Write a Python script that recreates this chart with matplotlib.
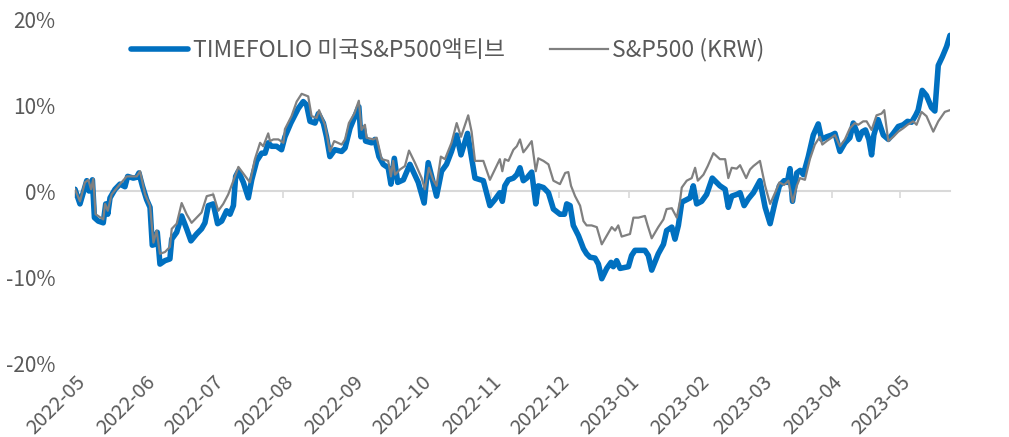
import matplotlib
matplotlib.use("Agg")
import matplotlib.pyplot as plt
import matplotlib.dates as mdates
import pandas as pd

plt.rcParams['font.family'] = ['Noto Sans CJK KR', 'DejaVu Sans']
plt.rcParams['font.weight'] = 'light'

start_date = "2022-05-01"
series_names = ["TIMEFOLIO 미국S&P500액티브", "S&P500 (KRW)"]

# TIMEFOLIO: (days since start, cumulative return %)
tf_days = [0, 2.2, 5.2, 6.2, 7.7, 8.6, 10.3, 12.5, 13.6, 14.5, 15.5, 17.7, 19.9, 22.1, 23.3, 25.8,
           27.3, 28.3, 29.8, 31.7, 33.2, 34.2, 35.4, 36.4, 37.6, 39.8, 42.0, 42.8, 45.0, 47.2, 49.4,
           51.3, 53.8, 56.0, 57.5, 59.0, 61.2, 63.1, 64.9, 67.1, 68.6, 70.1, 71.1, 72.3, 74.5, 76.7,
           78.2, 80.4, 82.6, 84.1, 85.5, 87.0, 89.2, 91.4, 92.9, 95.5, 98.8, 101.0, 102.5, 104.0,
           106.2, 107.7, 109.9, 111.3, 112.8, 115.0, 118.0, 119.5, 121.7, 123.9, 125.6, 126.5, 127.6,
           128.6, 131.3, 132.7, 134.5, 136.4, 138.6, 139.8, 141.3, 142.8, 145.3, 148.2, 151.9, 154.5,
           156.3, 160.0, 162.2, 164.4, 166.6, 168.9, 170.8, 173.7, 177.0, 180.7, 183.6, 185.8, 188.0,
           189.1, 190.2, 191.8, 194.0, 195.5, 196.9, 198.4, 199.9, 202.1, 203.9, 205.0, 207.3, 209.5,
           211.7, 214.6, 216.6, 217.6, 219.1, 220.5, 222.8, 225.0, 226.4, 227.9, 230.1, 231.6, 233.1,
           235.3, 237.2, 238.2, 239.7, 241.2, 244.9, 246.3, 247.8, 252.2, 253.7, 255.2, 258.1, 260.4,
           261.8, 264.1, 265.5, 267.0, 268.5, 270.7, 272.2, 273.6, 275.1, 277.3, 279.5, 282.0, 285.4,
           287.7, 289.1, 290.6, 292.8, 294.3, 296.1, 298.0, 300.2, 303.1, 305.4, 307.6, 309.8, 311.7,
           313.8, 315.2, 316.4, 317.5, 319.4, 320.9, 322.3, 324.5, 326.7, 328.9, 330.4, 332.6, 334.8,
           336.3, 338.5, 340.7, 342.9, 344.4, 345.9, 346.9, 348.4, 349.8, 351.3, 352.5, 353.5, 355.4,
           357.7, 359.9, 362.1, 364.3, 366.5, 368.4, 370.2, 372.0, 373.1, 374.9, 376.8, 379.0, 380.5,
           382.0, 383.8, 385.7, 387.2]
tf_vals = [0.2, -1.5, 1.2, 0.0, 1.3, -3.1, -3.5, -3.7, -1.5, -2.7, -0.8, 0.2, 0.8, 0.5, 1.7, 1.5,
           1.6, 2.1, 0.6, -1.0, -1.9, -6.3, -6.2, -4.8, -8.5, -8.1, -7.9, -5.6, -4.8, -2.9, -4.4,
           -5.8, -5.0, -4.4, -3.7, -1.7, -1.5, -3.8, -3.5, -2.3, -2.7, -1.7, 1.7, 2.3, 1.0, -0.8,
           1.3, 3.5, 4.4, 4.4, 5.6, 5.2, 5.2, 4.8, 6.3, 7.9, 9.6, 10.4, 10.0, 8.1,
           7.9, 9.0, 7.9, 6.3, 4.0, 4.8, 4.6, 5.0, 7.3, 8.7, 9.8, 6.3, 7.3,
           5.8, 5.6, 6.0, 4.0, 3.1, 2.7, 0.8, 3.8, 1.0, 1.3, 3.1, 1.0, -1.4,
           3.3, -0.6, 2.3, 3.1, 4.6, 6.5, 4.2, 6.7, 1.5, 1.2, -1.7, -1.0, -0.2,
           -1.2, 0.6, 1.3, 1.5, 1.9, 2.7, 1.2, 1.5, 2.2, -1.5, 0.6, 0.4, -0.2,
           -2.1, -2.7, -2.7, -1.5, -1.7, -4.0, -5.2, -6.7, -7.3, -7.7, -7.8, -8.5, -10.2,
           -9.0, -8.3, -8.8, -8.1, -9.0, -8.8, -7.5, -6.9, -6.9, -7.5, -9.2, -7.3, -6.2,
           -4.6, -4.2, -5.6, -4.0, -1.3, -1.0, -0.8, 0.6, -1.5, -1.2, -0.4, 1.5, 0.6,
           0.2, -1.9, -0.6, -0.4, -0.2, -1.7, -0.9, -0.2, 1.2, -1.9, -3.8, -1.3, 0.6,
           1.2, 1.0, 2.6, -1.2, 2.1, 2.4, 1.9, 4.0, 6.5, 7.8, 6.0, 6.3, 6.5,
           6.7, 4.6, 5.6, 6.2, 7.9, 6.9, 6.0, 6.9, 7.1, 6.0, 4.2, 6.5, 8.3,
           6.5, 6.0, 6.7, 7.5, 7.7, 8.1, 8.0, 8.8, 9.4, 11.7, 11.1, 9.7, 9.3,
           14.6, 15.6, 16.8, 18.1]

# S&P500 (KRW): (days since start, cumulative return %)
sp_days = [0, 2.2, 4.4, 5.9, 7.1, 8.1, 9.1, 12.5, 13.3, 14.5, 16.2, 19.9, 22.9, 27.3, 28.8, 31.0,
           33.2, 34.7, 36.1, 37.6, 39.8, 42.0, 42.8, 45.0, 47.2, 49.4, 51.6, 53.8, 56.0, 58.3, 61.2,
           63.4, 65.6, 67.8, 70.1, 72.3, 76.0, 77.4, 79.6, 81.9, 83.3, 85.5, 86.3, 87.8, 90.0, 92.2,
           92.9, 95.8, 98.1, 100.3, 103.2, 104.7, 106.9, 108.0, 110.6, 112.8, 114.7, 118.0, 119.5,
           121.2, 123.6, 125.6, 126.8, 128.3, 129.0, 132.0, 133.5, 135.7, 138.6, 139.8, 140.8, 141.6,
           143.8, 146.0, 147.8, 150.4, 153.4, 154.8, 156.6, 158.5, 160.0, 161.9, 163.7, 166.6, 168.9,
           170.8, 174.0, 175.5, 177.0, 180.7, 183.6, 185.8, 188.0, 189.1, 190.2, 191.8, 194.0, 195.5,
           196.9, 198.4, 199.9, 202.1, 203.9, 205.0, 207.3, 209.5, 211.7, 214.6, 216.9, 218.3, 219.5,
           221.3, 223.5, 225.0, 226.4, 228.6, 230.9, 233.1, 235.3, 237.5, 239.0, 240.4, 241.9, 245.6,
           247.1, 249.3, 252.2, 253.4, 255.2, 258.1, 260.4, 261.8, 264.1, 266.3, 267.7, 268.5, 270.7,
           272.9, 274.4, 275.6, 278.1, 280.0, 282.5, 285.4, 287.7, 289.1, 290.6, 292.8, 294.3, 297.0,
           298.7, 300.2, 303.1, 305.4, 307.6, 309.8, 311.7, 313.8, 315.7, 317.6, 319.4, 320.8, 323.0,
           325.2, 327.4, 329.6, 330.7, 332.6, 334.8, 336.3, 338.5, 340.7, 342.9, 345.1, 346.6, 348.8,
           350.3, 352.5, 354.7, 356.9, 358.1, 359.9, 362.1, 364.3, 366.5, 368.4, 370.9, 372.4, 374.6,
           376.8, 379.8, 382.0, 384.9, 387.2]
sp_vals = [0.2, -1.2, 1.0, 1.3, 0.2, 1.4, -2.7, -3.3, -1.5, -2.3, -0.4, 0.8, 1.7, 1.7, 2.3, -0.4,
           -1.7, -6.0, -4.6, -7.3, -7.1, -6.5, -4.4, -3.8, -1.4, -2.7, -3.7, -3.1, -2.5, -0.6, -0.4,
           -2.3, -1.5, -0.4, 1.2, 2.8, 1.5, 1.0, 3.7, 5.6, 5.2, 6.7, 5.8, 6.0, 6.0, 5.6,
           7.2, 8.7, 10.4, 11.3, 11.0, 8.7, 8.5, 9.4, 7.7, 4.6, 5.8, 5.4, 6.0,
           7.9, 9.0, 10.5, 7.1, 7.7, 6.2, 6.0, 6.2, 3.7, 3.5, 1.7, 3.5, 1.9,
           2.5, 2.9, 4.7, 3.3, 1.5, 0.2, 2.7, 1.3, 0.6, 4.0, 3.7, 5.6, 7.9,
           6.3, 8.8, 6.9, 3.5, 3.5, 1.3, 2.5, 3.7, 2.3, 3.7, 3.5, 4.8, 5.2,
           6.0, 4.5, 5.0, 5.8, 2.3, 3.8, 3.5, 3.1, 1.2, 0.8, 2.1, 2.2, 0.6,
           -0.6, -1.7, -3.5, -4.0, -4.0, -4.2, -6.2, -5.2, -4.2, -4.6, -4.0, -5.3, -5.0,
           -3.1, -3.1, -2.9, -4.0, -5.5, -4.2, -3.3, -2.1, -2.0, -3.1, -1.2, 0.4, 1.2,
           1.5, 2.7, 1.2, 1.9, 2.9, 4.4, 3.7, 3.7, 1.5, 2.7, 2.6, 3.0, 1.5,
           2.5, 2.9, 3.5, 0.6, -1.5, -0.2, 1.0, 0.7, 1.2, -1.3, 0.6, 1.5, 1.3,
           3.7, 5.4, 6.3, 5.4, 5.8, 6.2, 6.5, 5.2, 6.0, 7.3, 7.9, 7.7, 8.1,
           8.1, 7.1, 8.8, 9.0, 9.4, 5.8, 6.3, 6.9, 7.3, 7.7, 8.1, 7.7, 9.2,
           8.7, 6.9, 8.1, 9.2, 9.4]

y_ticks = [-20, -10, 0, 10, 20]
y_labels = ["-20%", "-10%", "0%", "10%", "20%"]

base = pd.Timestamp(start_date)
tf_dates = base + pd.to_timedelta(tf_days, unit="D")
sp_dates = base + pd.to_timedelta(sp_days, unit="D")

text_color = "#595959"
W, H = 1009, 437
fig = plt.figure(figsize=(W / 100, H / 100), dpi=100)
ax = fig.add_axes([75 / W, 1 - 363 / H, 875 / W, 344 / H])

ax.plot(tf_dates, tf_vals, color="#0070C0", lw=4.0, solid_joinstyle="round",
        solid_capstyle="round", label=series_names[0], zorder=3)
ax.plot(sp_dates, sp_vals, color="#808080", lw=1.6, solid_joinstyle="round",
        label=series_names[1], zorder=4)

ax.set_xlim(tf_dates[0], tf_dates[-1])
ax.set_ylim(-20, 20)
ax.set_yticks(y_ticks)
ax.set_yticklabels(y_labels)

ax.xaxis.set_major_locator(mdates.MonthLocator())
ax.xaxis.set_major_formatter(mdates.DateFormatter("%Y-%m"))

for s in ["left", "right", "bottom"]:
    ax.spines[s].set_visible(False)
ax.spines["top"].set_position(("data", 0))
ax.spines["top"].set_color("#d9d9d9")
ax.spines["top"].set_linewidth(1.5)
ax.spines["top"].set_zorder(1)
ax.set_axisbelow(True)

ax.tick_params(axis="y", length=0, pad=14, labelsize=15, labelcolor=text_color)
ax.tick_params(axis="x", top=True, bottom=False, labeltop=False, labelbottom=True,
               direction="in", length=5, width=1.2, color="#d9d9d9",
               labelsize=14.5, labelcolor=text_color, pad=6)
for lab in ax.get_xticklabels():
    lab.set_rotation(45)
    lab.set_ha("right")
    lab.set_va("top")
    lab.set_rotation_mode("anchor")

leg = ax.legend(loc="center", bbox_to_anchor=(0.426, 0.91), ncol=2, frameon=False,
                fontsize=16.5, handlelength=2.5, handletextpad=0.2, columnspacing=2.0)
for t in leg.get_texts():
    t.set_color(text_color)

fig.savefig("out.png", dpi=100, facecolor="white")
